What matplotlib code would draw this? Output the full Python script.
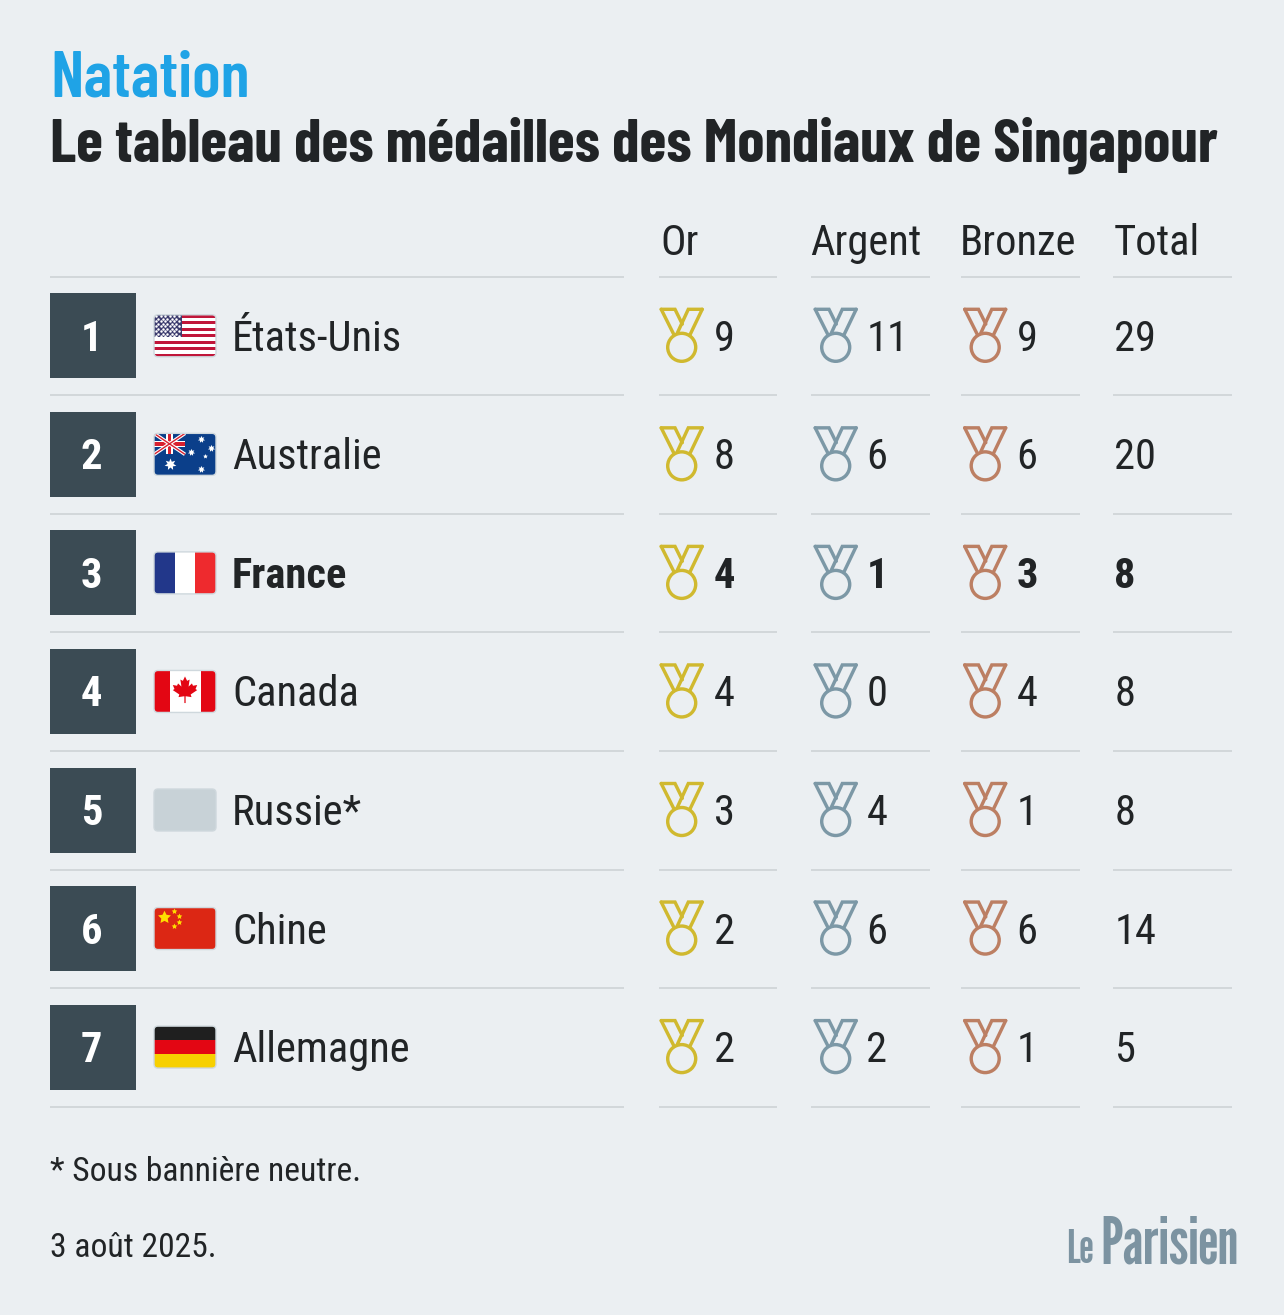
import matplotlib
matplotlib.use('Agg')
import matplotlib.pyplot as plt
import numpy as np
from matplotlib.patches import Rectangle, FancyBboxPatch, Circle, Polygon

# ---------- data ----------
kicker = "Natation"
title = "Le tableau des médailles des Mondiaux de Singapour"
headers = ["Or", "Argent", "Bronze", "Total"]
ranks = [1, 2, 3, 4, 5, 6, 7]
countries = ["États-Unis", "Australie", "France", "Canada", "Russie*", "Chine", "Allemagne"]
flags = ["us", "au", "fr", "ca", "neutral", "cn", "de"]
gold = [9, 8, 4, 4, 3, 2, 2]
silver = [11, 6, 1, 0, 4, 6, 2]
bronze = [9, 6, 3, 4, 1, 6, 1]
total = [29, 20, 8, 8, 8, 14, 5]
highlight = "France"
note = "* Sous bannière neutre."
date = "3 août 2025."

# ---------- style ----------
BG = "#ebeff2"; INK = "#212426"; RULE = "#d2d7da"; SLATE = "#3b4b54"; BLUE = "#1fa3e6"
GOLD = "#d0b92f"; SILVER = "#7c98a6"; BRONZE = "#bc7f63"; LOGO = "#7c93a1"
FONT = "Roboto Condensed"; HEAD = "Barlow Condensed"; LOGOFONT = "League Gothic"
PX = 0.72  # points per pixel at dpi 100

fig = plt.figure(figsize=(12.84, 13.15), dpi=100, facecolor=BG)
ax = fig.add_axes([0, 0, 1, 1])
ax.set_xlim(0, 1284); ax.set_ylim(1315, 0); ax.axis("off")

def T(x, y, s, size, color=INK, weight="normal", **kw):
    return ax.text(x, y, s, fontsize=size * PX, color=color, fontweight=weight,
                   family=kw.pop("family", FONT), va="baseline", **kw)

T(50, 96, kicker, 66, BLUE, "semibold", family=HEAD)
T(50, 162, title, 61.4, INK, "bold", family=HEAD)

ROW0, STEP = 335.8, 118.55
rule_y0 = 276.8
segments = [(50, 624), (659, 777), (811, 930), (961, 1080), (1113, 1232)]
hdr_x = [660, 810, 959.5, 1114]
medal_x = [681.7, 835.7, 985.2]
val_x = [713.5, 866.5, 1016.5]
total_x = 1114.5
BODY = 42.5

for x, h in zip(hdr_x, headers):
    T(x, 255, h, BODY)

for i in range(len(ranks) + 1):
    y = rule_y0 + i * STEP
    for a, b in segments:
        ax.plot([a, b], [y, y], color=RULE, lw=2 * PX, solid_capstyle="butt")

def medal(cx, cy, color):
    lw = 3.4 * PX
    paths = [[(-20.5, -26.5), (-6.7, -26.5), (0.6, -11.7)],
             [(20.5, -26.5), (6.6, -26.5), (-4.4, -2.7)],
             [(-20.5, -26.5), (-7.7, -1)],
             [(20.5, -26.5), (8.3, -1)]]
    for p in paths:
        p = np.array(p)
        ax.plot(cx + p[:, 0], cy + p[:, 1], color=color, lw=lw, solid_capstyle="round", solid_joinstyle="miter")
    ax.add_patch(Circle((cx, cy + 11.5), 14, fill=False, ec=color, lw=lw))

def flag(kind, cy):
    x0, y0, w, h = 154, cy - 21, 62, 42
    clip = FancyBboxPatch((x0, y0), w, h, boxstyle="round,pad=0,rounding_size=4", fc="none", ec="none", transform=ax.transData)
    ax.add_patch(clip)
    arts = []
    def R(u, v, du, dv, c):
        r = Rectangle((x0 + u * w, y0 + v * h), du * w, dv * h, fc=c, ec="none")
        ax.add_patch(r); arts.append(r)
    def S(u, v, size, c, marker=(5, 1)):
        r = ax.scatter([x0 + u * w], [y0 + v * h], s=size, c=c, marker=marker, linewidths=0, zorder=3)
        arts.append(r)
    def L(pts, c, lw):
        r = ax.plot([x0 + p[0] * w for p in pts], [y0 + p[1] * h for p in pts], color=c, lw=lw, solid_capstyle="butt", zorder=2.5)[0]
        arts.append(r)
    if kind == "us":
        R(0, 0, 1, 1, "#ffffff")
        for k in range(0, 13, 2):
            R(0, k / 13, 1, 1 / 13, "#c0163a")
        R(0, 0, .45, 7 / 13, "#3c3b6e")
        for row in range(9):
            n = 6 if row % 2 == 0 else 5
            off = 0.035 if row % 2 == 0 else 0.07
            for c in range(n):
                S(off + c * .0725, .04 + row * .058, 3.2, "white", "o")
    elif kind == "au":
        R(0, 0, 1, 1, "#0b3f8a")
        L([(0, 0), (.5, .5)], "white", 2.6); L([(.5, 0), (0, .5)], "white", 2.6)
        L([(0, 0), (.5, .5)], "#d8202f", 1.0); L([(.5, 0), (0, .5)], "#d8202f", 1.0)
        R(.2, 0, .1, .5, "white"); R(0, .18, .5, .14, "white")
        R(.225, 0, .05, .5, "#d8202f"); R(0, .21, .5, .08, "#d8202f")
        S(.25, .74, 75, "white", (7, 1))
        S(.75, .14, 28, "white", (7, 1)); S(.59, .44, 28, "white", (7, 1))
        S(.92, .36, 28, "white", (7, 1)); S(.83, .55, 12, "white", (5, 1)); S(.75, .84, 28, "white", (7, 1))
    elif kind == "fr":
        R(0, 0, 1/3, 1, "#22378a"); R(1/3, 0, 1/3, 1, "#ffffff"); R(2/3, 0, 1/3, 1, "#ee2a2e")
    elif kind == "ca":
        R(0, 0, 1, 1, "#ffffff"); R(0, 0, .25, 1, "#e30613"); R(.75, 0, .25, 1, "#e30613")
        leaf = [(0, -.8), (.1, -.55), (.22, -.62), (.17, -.22), (.33, -.4), (.38, -.27), (.58, -.31), (.5, -.08),
                (.58, -.02), (.27, .23), (.31, .38), (.03, .33), (.03, .72), (-.03, .72), (-.03, .33),
                (-.31, .38), (-.27, .23), (-.58, -.02), (-.5, -.08), (-.58, -.31), (-.38, -.27), (-.33, -.4),
                (-.17, -.22), (-.22, -.62), (-.1, -.55)]
        pg = Polygon([(x0 + .5 * w + p[0] * 21, cy - 1 + p[1] * 17.5) for p in leaf], fc="#e30613", ec="none", zorder=3)
        ax.add_patch(pg); arts.append(pg)
    elif kind == "neutral":
        R(0, 0, 1, 1, "#c8d2d7")
    elif kind == "cn":
        R(0, 0, 1, 1, "#dc2714")
        S(.16, .23, 95, "#ffde00")
        for u, v in [(.33, .08), (.40, .19), (.40, .34), (.33, .45)]:
            S(u, v, 18, "#ffde00")
    elif kind == "de":
        R(0, 0, 1, 1/3, "#1f1f1f"); R(0, 1/3, 1, 1/3, "#e30613"); R(0, 2/3, 1, 1/3, "#f7d000")
    for a in arts:
        a.set_clip_path(clip)
    ax.add_patch(FancyBboxPatch((x0, y0), w, h, boxstyle="round,pad=0,rounding_size=4", fc="none", ec="#cfd8dd", lw=1.4 * PX, zorder=4))

for i, (rk, name, fl, g, s, b, t) in enumerate(zip(ranks, countries, flags, gold, silver, bronze, total)):
    cy = ROW0 + i * STEP
    w = "bold" if name == highlight else "normal"
    ax.add_patch(Rectangle((50, cy - 42.5), 85.5, 85, fc=SLATE, ec="none"))
    T(91.5, cy + 15, str(rk), BODY, "white", "bold", ha="center")
    flag(fl, cy)
    T(232, cy + 15, name, BODY, INK, w)
    for mx, vx, v, c in zip(medal_x, val_x, (g, s, b), (GOLD, SILVER, BRONZE)):
        medal(mx, cy, c)
        T(vx, cy + 15, str(v), BODY, INK, w)
    T(total_x, cy + 15, str(t), BODY, INK, w)

T(50, 1181, note, 33.6)
T(50, 1257, date, 33.6)
T(1066, 1263, "Le", 46, LOGO, family=LOGOFONT)
T(1100, 1263, "Parisien", 64.5, LOGO, family=LOGOFONT)

fig.savefig("out.png", dpi=100, facecolor=BG)
